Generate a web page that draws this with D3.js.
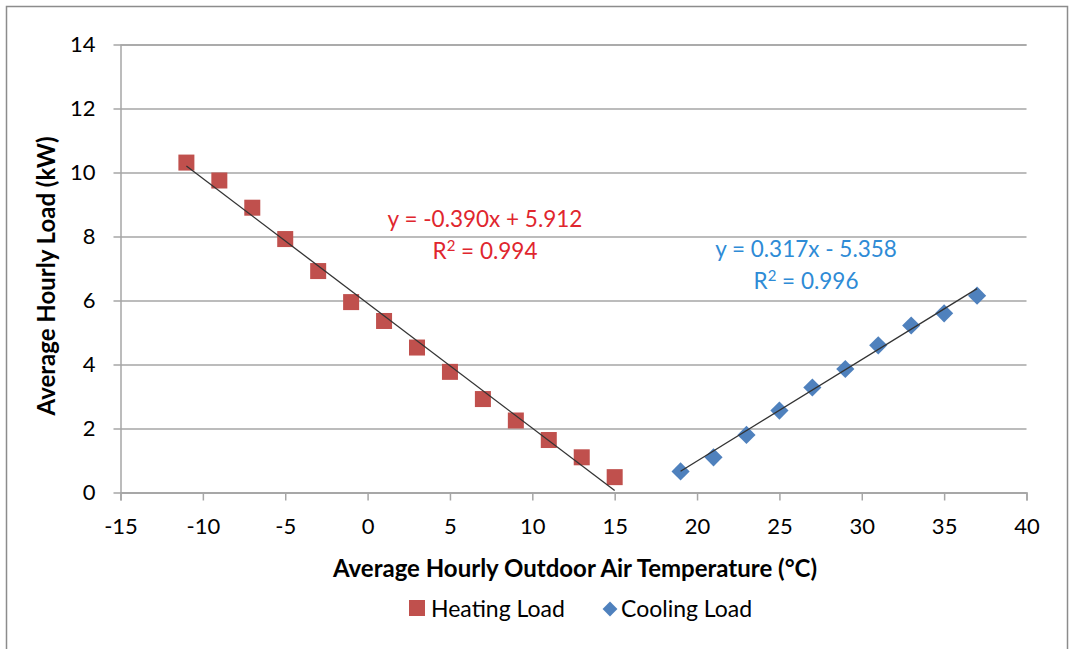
<!DOCTYPE html>
<html>
<head>
<meta charset="utf-8">
<script src="https://cdn.jsdelivr.net/npm/d3@7"></script>
<style>
  body { margin: 0; background: #fff; }
  svg { display: block; font-family: Lato, "Open Sans", sans-serif; }
</style>
</head>
<body>
<svg id="chart" width="1069" height="649"></svg>
<script>
// chart data
const heatingTemp = [-11, -9, -7, -5, -3, -1, 1, 3, 5, 7, 9, 11, 13, 15];
const heatingLoad = [10.31, 9.75, 8.9, 7.92, 6.92, 5.95, 5.36, 4.53, 3.77, 2.92, 2.25, 1.64, 1.1, 0.48];
const coolingTemp = [19, 21, 23, 25, 27, 29, 31, 33, 35, 37];
const coolingLoad = [0.66, 1.1, 1.8, 2.56, 3.28, 3.86, 4.6, 5.22, 5.6, 6.15];
const xTicks = [-15, -10, -5, 0, 5, 10, 15, 20, 25, 30, 35, 40];
const yTicks = [0, 2, 4, 6, 8, 10, 12, 14];
// trend lines as printed on the chart
const heatingFit = { slope: -0.390, intercept: 5.912, r2: 0.994 };
const coolingFit = { slope: 0.317, intercept: -5.358, r2: 0.996 };

(function () {
    const svg = d3.select("#chart");
    const gridColor = "#a6a6a6";
    const font = "Lato, 'Open Sans', sans-serif";

    const x = d3.scaleLinear().domain([-15, 40]).range([120.5, 1026.5]);
    const y = d3.scaleLinear().domain([0, 14]).range([492.5, 44.5]);

    // outer chart border
    svg.append("rect")
        .attr("x", 6.5).attr("y", 6.5)
        .attr("width", 1061).attr("height", 660)
        .attr("fill", "none")
        .attr("stroke", "#8c8c8c")
        .attr("stroke-width", 1.5);

    // horizontal gridlines + y axis
    const yAxis = d3.axisLeft(y)
        .tickValues(yTicks)
        .tickSize(-(x.range()[1] - x.range()[0]))
        .tickPadding(25)
        .tickFormat(d3.format("d"));
    const gy = svg.append("g")
        .attr("transform", `translate(${x.range()[0]},0)`)
        .call(yAxis)
        .attr("font-family", font)
        .attr("font-size", 22);
    gy.select(".domain").attr("stroke", gridColor).attr("stroke-width", 1.5);
    gy.selectAll(".tick line")
        .attr("x1", -7)
        .attr("stroke", gridColor)
        .attr("stroke-width", 1.5);
    gy.selectAll(".tick text").attr("fill", "#000");

    // x axis
    const xAxis = d3.axisBottom(x)
        .tickValues(xTicks)
        .tickSize(8)
        .tickPadding(18)
        .tickFormat(d => d < 0 ? "-" + Math.abs(d) : d);
    const gx = svg.append("g")
        .attr("transform", `translate(0,${y(0)})`)
        .call(xAxis)
        .attr("font-family", font)
        .attr("font-size", 22);
    gx.select(".domain").attr("stroke", gridColor).attr("stroke-width", 1.5);
    gx.selectAll(".tick line").attr("stroke", gridColor).attr("stroke-width", 1.5);
    gx.selectAll(".tick text").attr("fill", "#000");

    // heating markers (squares)
    const sq = 16;
    svg.append("g").selectAll("rect")
        .data(heatingTemp.map((t, i) => [t, heatingLoad[i]]))
        .join("rect")
        .attr("x", d => x(d[0]) - sq / 2)
        .attr("y", d => y(d[1]) - sq / 2)
        .attr("width", sq).attr("height", sq)
        .attr("fill", "#c0504d");

    // cooling markers (diamonds)
    const diamond = d3.symbol().type(d3.symbolSquare).size(165);
    svg.append("g").selectAll("path")
        .data(coolingTemp.map((t, i) => [t, coolingLoad[i]]))
        .join("path")
        .attr("d", diamond)
        .attr("transform", d => `translate(${x(d[0])},${y(d[1])}) rotate(45)`)
        .attr("fill", "#4f81bd");

    // trend lines, drawn over the markers
    function trend(fit, xs) {
        const x0 = d3.min(xs), x1 = d3.max(xs);
        svg.append("line")
            .attr("x1", x(x0)).attr("y1", y(fit.slope * x0 + fit.intercept))
            .attr("x2", x(x1)).attr("y2", y(fit.slope * x1 + fit.intercept))
            .attr("stroke", "#333")
            .attr("stroke-width", 1.3);
    }
    trend(heatingFit, heatingTemp);
    trend(coolingFit, coolingTemp);

    // equation labels
    function eqLabel(fit, cx, cy, color) {
        const sign = fit.intercept < 0 ? " - " : " + ";
        svg.append("text")
            .attr("x", cx).attr("y", cy)
            .attr("text-anchor", "middle")
            .attr("font-size", 22.5)
            .attr("fill", color)
            .text(`y = ${fit.slope.toFixed(3)}x${sign}${Math.abs(fit.intercept).toFixed(3)}`);
        const t2 = svg.append("text")
            .attr("x", cx).attr("y", cy + 32)
            .attr("text-anchor", "middle")
            .attr("font-size", 22.5)
            .attr("fill", color);
        t2.append("tspan").text("R");
        t2.append("tspan").attr("dy", -8).attr("font-size", 15).text("2");
        t2.append("tspan").attr("dy", 8).text(` = ${fit.r2.toFixed(3)}`);
    }
    eqLabel(heatingFit, 485, 227, "#e0262e");
    eqLabel(coolingFit, 806, 257, "#2e8bd6");

    // axis titles
    svg.append("text")
        .attr("transform", "translate(55,276) rotate(-90)")
        .attr("text-anchor", "middle")
        .attr("font-size", 24)
        .attr("font-weight", "bold")
        .text("Average Hourly Load (kW)");
    svg.append("text")
        .attr("x", 575).attr("y", 577)
        .attr("text-anchor", "middle")
        .attr("font-size", 24)
        .attr("font-weight", "bold")
        .text("Average Hourly Outdoor Air Temperature (°C)");

    // legend
    const lg = svg.append("g").attr("font-size", 23);
    lg.append("rect")
        .attr("x", 409).attr("y", 600)
        .attr("width", 16).attr("height", 16)
        .attr("fill", "#c0504d");
    lg.append("text").attr("x", 431).attr("y", 617).text("Heating Load");
    lg.append("path")
        .attr("d", d3.symbol().type(d3.symbolSquare).size(110))
        .attr("transform", "translate(610,609) rotate(45)")
        .attr("fill", "#4f81bd");
    lg.append("text").attr("x", 621).attr("y", 617).text("Cooling Load");
})();
</script>
</body>
</html>
